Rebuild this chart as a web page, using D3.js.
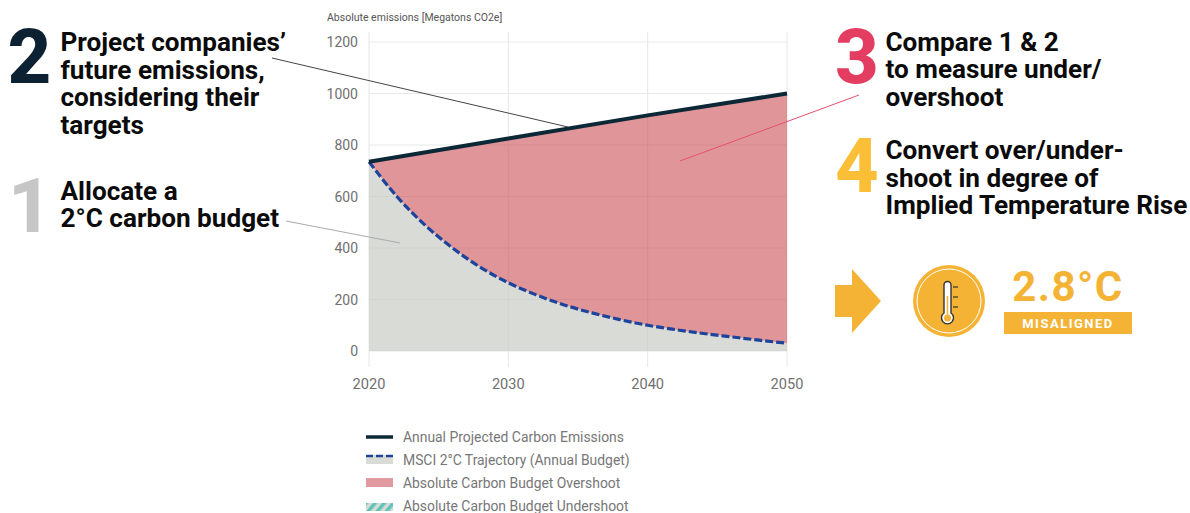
<!DOCTYPE html>
<html>
<head>
<meta charset="utf-8">
<script src="https://cdn.jsdelivr.net/npm/d3@7"></script>
<style>
body { margin: 0; background: #fff; }
svg { display: block; font-family: Roboto, sans-serif; }
.step { font-size: 26.15px; font-weight: 700; fill: #0b0b0b; }
.num { font-size: 76px; font-weight: 800; }
.tick-label { font-size: 14px; fill: #707070; }
.x-label { font-size: 14.6px; }
.legend-label { font-size: 13.9px; fill: #777; }
</style>
</head>
<body>
<svg width="1190" height="513"></svg>
<script>
var years = [2020, 2022, 2024, 2026, 2028, 2030, 2032, 2034, 2036, 2038, 2040, 2042, 2044, 2046, 2048, 2050];
var budget = [735, 600, 490, 400, 325, 265, 218, 179, 148, 122, 100, 83, 68, 55, 42, 30];
var projectedYears = [2020, 2030, 2040, 2050];
var projected = [735, 825, 915, 1000];
var xTicks = [2020, 2030, 2040, 2050];
var yTicks = [0, 200, 400, 600, 800, 1000, 1200];
var legendLabels = ["Annual Projected Carbon Emissions", "MSCI 2°C Trajectory (Annual Budget)", "Absolute Carbon Budget Overshoot", "Absolute Carbon Budget Undershoot"];

var svg = d3.select("svg");

var x = d3.scaleLinear().domain([2020, 2050]).range([369, 787]);
var y = d3.scaleLinear().domain([0, 1200]).range([351, 42]);

var defs = svg.append("defs");
var hatch = defs.append("pattern")
    .attr("id", "hatch")
    .attr("width", 7)
    .attr("height", 7)
    .attr("patternUnits", "userSpaceOnUse")
    .attr("patternTransform", "rotate(40)");
hatch.append("rect").attr("width", 7).attr("height", 7).attr("fill", "#d9dbd6");
hatch.append("rect").attr("width", 3.5).attr("height", 7).attr("fill", "#5fc4b8");

// grid
svg.append("g").selectAll("line")
    .data(xTicks)
    .join("line")
    .attr("x1", d => x(d)).attr("x2", d => x(d))
    .attr("y1", 32).attr("y2", 367)
    .attr("stroke", "#e6e6e6");
svg.append("g").selectAll("line")
    .data(yTicks)
    .join("line")
    .attr("x1", 369).attr("x2", 787)
    .attr("y1", d => y(d)).attr("y2", d => y(d))
    .attr("stroke", "#e9e9e9");

svg.append("g").selectAll("text")
    .data(yTicks)
    .join("text")
    .attr("class", "tick-label")
    .attr("x", 358)
    .attr("y", d => y(d) + 5)
    .attr("text-anchor", "end")
    .text(d => d);
svg.append("g").selectAll("text")
    .data(xTicks)
    .join("text")
    .attr("class", "tick-label x-label")
    .attr("x", d => x(d))
    .attr("y", 389)
    .attr("text-anchor", "middle")
    .text(d => d);

svg.append("text")
    .attr("x", 327).attr("y", 21)
    .attr("font-size", 10.5)
    .attr("fill", "#555")
    .text("Absolute emissions [Megatons CO2e]");

// areas
var budgetPts = years.map((d, i) => [d, budget[i]]);
var projectedAt = d3.scaleLinear().domain(projectedYears).range(projected);

svg.append("path")
    .datum(budgetPts)
    .attr("d", d3.area().x(d => x(d[0])).y0(y(0)).y1(d => y(d[1])).curve(d3.curveMonotoneX))
    .attr("fill", "#c5c8c0")
    .attr("fill-opacity", 0.65);
svg.append("path")
    .datum(budgetPts)
    .attr("d", d3.area().x(d => x(d[0])).y0(d => y(d[1])).y1(d => y(projectedAt(d[0]))).curve(d3.curveMonotoneX))
    .attr("fill", "#c94a50")
    .attr("fill-opacity", 0.58);

svg.append("path")
    .datum(budgetPts)
    .attr("d", d3.line().x(d => x(d[0])).y(d => y(d[1])).curve(d3.curveMonotoneX))
    .attr("fill", "none")
    .attr("stroke", "#1d439b")
    .attr("stroke-width", 3.2)
    .attr("stroke-dasharray", "8 3");
svg.append("path")
    .datum(projectedYears.map((d, i) => [d, projected[i]]))
    .attr("d", d3.line().x(d => x(d[0])).y(d => y(d[1])))
    .attr("fill", "none")
    .attr("stroke", "#0c2736")
    .attr("stroke-width", 4);

// leader lines
svg.append("line").attr("x1", 272).attr("y1", 58).attr("x2", 568).attr("y2", 127).attr("stroke", "#444");
svg.append("line").attr("x1", 286).attr("y1", 221).attr("x2", 400).attr("y2", 243).attr("stroke", "#aaa");
svg.append("line").attr("x1", 859).attr("y1", 95).attr("x2", 680).attr("y2", 161).attr("stroke", "#e4526f");

// step text
function step(n, color, nx, ny, tx, ty, lines) {
    svg.append("text").attr("class", "num").attr("x", nx).attr("y", ny).attr("fill", color).text(n);
    svg.append("text")
        .attr("class", "step")
        .selectAll("tspan")
        .data(lines)
        .join("tspan")
        .attr("x", tx)
        .attr("y", (d, i) => ty + i * 27.7)
        .text(d => d);
}
step("2", "#0c2233", 7.5, 83, 60.5, 51, ["Project companies’", "future emissions,", "considering their", "targets"]);
step("1", "#c6c6c6", 8, 232, 60.5, 199.5, ["Allocate a", "2°C carbon budget"]);
step("3", "#e43d62", 835, 83, 885.5, 50.7, ["Compare 1 & 2", "to measure under/", "overshoot"]);
step("4", "#fbbf37", 835, 192, 885.5, 159, ["Convert over/under-", "shoot in degree of", "Implied Temperature Rise"]);

// result badge
var gold = "#f4b335";
svg.append("path")
    .attr("d", "M835 285H852V269L881 301L852 333V317H835Z")
    .attr("fill", gold);
svg.append("circle").attr("cx", 949).attr("cy", 301).attr("r", 36).attr("fill", gold);
svg.append("circle").attr("cx", 949).attr("cy", 301).attr("r", 32).attr("fill", "none").attr("stroke", "#fff").attr("stroke-width", 1);
var thermo = svg.append("g").attr("fill", "#fff").attr("stroke", "#333").attr("stroke-width", 1.4);
thermo.append("path").attr("d", "M944 313V285a3.5 3.5 0 0 1 7 0V313a6 6 0 1 1 -7 0Z");
svg.append("line").attr("x1", 947.5).attr("x2", 947.5).attr("y1", 296).attr("y2", 316).attr("stroke", gold).attr("stroke-width", 1.5);
svg.append("circle").attr("cx", 947.5).attr("cy", 318).attr("r", 3.5).attr("fill", gold);
svg.append("g").selectAll("line")
    .data([287, 297, 307])
    .join("line")
    .attr("x1", 953).attr("x2", 958)
    .attr("y1", d => d).attr("y2", d => d)
    .attr("stroke", "#333").attr("stroke-width", 1.2);
svg.append("text")
    .attr("x", 1068).attr("y", 301)
    .attr("text-anchor", "middle")
    .attr("font-size", 42).attr("font-weight", 700)
    .attr("letter-spacing", 1.5)
    .attr("fill", gold)
    .text("2.8°C");
svg.append("rect").attr("x", 1004).attr("y", 312).attr("width", 128).attr("height", 22).attr("fill", gold);
svg.append("text")
    .attr("x", 1068).attr("y", 328)
    .attr("text-anchor", "middle")
    .attr("font-size", 13).attr("font-weight", 700)
    .attr("letter-spacing", 1.5)
    .attr("fill", "#fff")
    .text("MISALIGNED");

// legend
var rowY = d3.scalePoint().domain(legendLabels).range([437, 506]);
svg.append("g").selectAll("text")
    .data(legendLabels)
    .join("text")
    .attr("class", "legend-label")
    .attr("x", 403)
    .attr("y", d => rowY(d) + 5)
    .text(d => d);
var lg = svg.append("g");
lg.append("line").attr("x1", 366).attr("x2", 393).attr("y1", 437).attr("y2", 437).attr("stroke", "#0c2736").attr("stroke-width", 3.5);
lg.append("rect").attr("x", 366).attr("y", 455).attr("width", 27).attr("height", 9).attr("fill", "#d9dbd6");
lg.append("line").attr("x1", 366).attr("x2", 393).attr("y1", 456).attr("y2", 456).attr("stroke", "#1d439b").attr("stroke-width", 2.5).attr("stroke-dasharray", "7 3");
lg.append("rect").attr("x", 366).attr("y", 478).attr("width", 27).attr("height", 9).attr("fill", "#e19a9f");
lg.append("rect").attr("x", 366).attr("y", 503).attr("width", 27).attr("height", 8).attr("fill", "url(#hatch)");
</script>
</body>
</html>
